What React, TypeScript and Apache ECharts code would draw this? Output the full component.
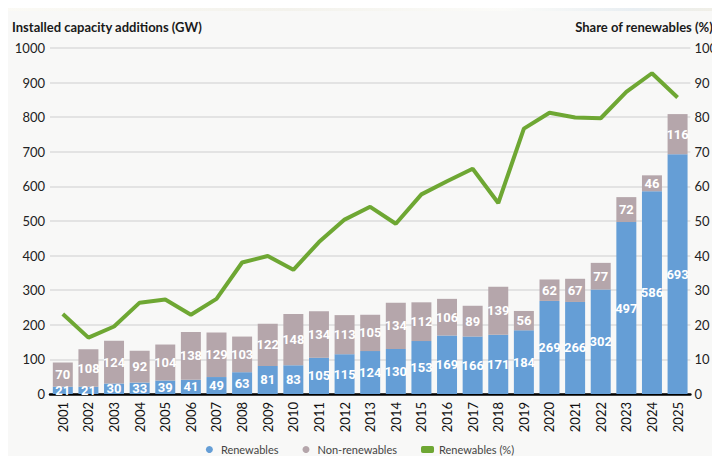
import React, { useEffect, useRef } from "react";
import * as echarts from "echarts";

const years = [
  "2001", "2002", "2003", "2004", "2005", "2006", "2007", "2008", "2009", "2010",
  "2011", "2012", "2013", "2014", "2015", "2016", "2017", "2018", "2019", "2020",
  "2021", "2022", "2023", "2024", "2025",
];
const renewables = [21, 21, 30, 33, 39, 41, 49, 63, 81, 83, 105, 115, 124, 130, 153, 169, 166, 171, 184, 269, 266, 302, 497, 586, 693];
const nonRenewables = [70, 108, 124, 92, 104, 138, 129, 103, 122, 148, 134, 113, 105, 134, 112, 106, 89, 139, 56, 62, 67, 77, 72, 46, 116];
const sharePct = [23.1, 16.3, 19.5, 26.4, 27.3, 22.9, 27.5, 38.0, 39.9, 35.9, 43.9, 50.4, 54.1, 49.2, 57.7, 61.5, 65.1, 55.2, 76.7, 81.3, 79.9, 79.7, 87.3, 92.7, 85.7];

const BLUE = "#659ed6";
const GREY = "#b5a6ab";
const GREEN = "#6ea733";
const LABEL_FONT = "Roboto, sans-serif";

const App: React.FC = () => {
  const chartRef = useRef<HTMLDivElement>(null);

  useEffect(() => {
    if (!chartRef.current) return;
    const chart = echarts.init(chartRef.current, undefined, { renderer: "svg" });

    const barLabel = {
      show: true,
      position: "inside" as const,
      color: "#fff",
      fontFamily: LABEL_FONT,
      fontWeight: "bold" as const,
      fontSize: 13,
    };

    const titleStyle = {
      fontFamily: "Lato, sans-serif",
      fontWeight: "bold" as const,
      fontSize: 13,
      fill: "#1a1a1a",
    };

    const option: echarts.EChartsOption = {
      animation: false,
      backgroundColor: "transparent",
      textStyle: { fontFamily: "Lato, sans-serif" },
      grid: { left: 50, right: 29, top: 37, height: 346 },
      legend: {
        bottom: 4,
        left: "center",
        itemGap: 24,
        itemWidth: 13,
        itemHeight: 7,
        textStyle: { color: "#444", fontSize: 11, fontFamily: "Lato, sans-serif" },
        data: [
          { name: "Renewables", icon: "circle" },
          { name: "Non-renewables", icon: "circle" },
          { name: "Renewables (%)", icon: "roundRect", itemStyle: { color: GREEN } },
        ],
      },
      graphic: [
        {
          type: "text",
          left: 12,
          top: 9,
          style: { text: "Installed capacity additions (GW)", ...titleStyle },
        },
        {
          type: "text",
          right: 7,
          top: 9,
          style: { text: "Share of renewables (%)", ...titleStyle },
        },
      ],
      xAxis: {
        type: "category",
        data: years,
        axisLine: { show: true, lineStyle: { color: "#000", width: 2.5 } },
        axisTick: { show: false },
        axisLabel: { rotate: 90, color: "#111", fontSize: 13, margin: 8, interval: 0 },
      },
      yAxis: [
        {
          type: "value",
          min: 0,
          max: 1000,
          interval: 100,
          axisLine: { show: false },
          axisTick: { show: false },
          axisLabel: { color: "#222", fontSize: 13, margin: 5, formatter: (v: number) => String(v) },
          splitLine: { lineStyle: { color: "#dddddd", width: 1.5 } },
        },
        {
          type: "value",
          min: 0,
          max: 100,
          interval: 10,
          axisLine: { show: false },
          axisTick: { show: false },
          axisLabel: { color: "#222", fontSize: 13, margin: 4 },
          splitLine: { show: false },
        },
      ],
      series: [
        {
          name: "Renewables",
          type: "bar",
          stack: "total",
          data: renewables,
          barCategoryGap: "22%",
          itemStyle: { color: BLUE },
          label: barLabel,
        },
        {
          name: "Non-renewables",
          type: "bar",
          stack: "total",
          data: nonRenewables,
          itemStyle: { color: GREY },
          label: barLabel,
        },
        {
          name: "Renewables (%)",
          type: "line",
          yAxisIndex: 1,
          data: sharePct,
          symbol: "none",
          lineStyle: { color: GREEN, width: 4 },
          itemStyle: { color: GREEN },
          z: 5,
        },
      ],
    };

    chart.setOption(option);
    return () => chart.dispose();
  }, []);

  return (
    <div style={{ width: 720, height: 464, margin: -8, background: "#f8f8f7", position: "relative" }}>
      <div
        style={{
          height: 11,
          background:
            "linear-gradient(100deg, #fbfaf5 0%, #f3f2ec 40%, #fbfbf8 70%, #e8eef2 88%, #f1efe6 100%)",
        }}
      />
      <div ref={chartRef} style={{ width: 720, height: 453 }} />
    </div>
  );
};

export default App;
